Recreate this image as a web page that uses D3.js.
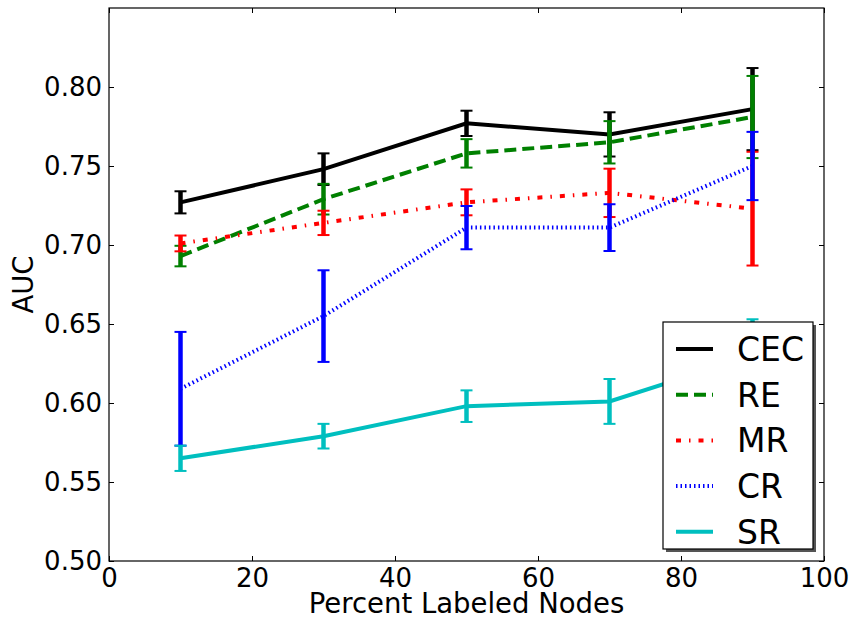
<!DOCTYPE html>
<html>
<head>
<meta charset="utf-8">
<script src="https://cdn.jsdelivr.net/npm/d3@7"></script>
<style>
  body { margin: 0; background: #fff; }
  svg { display: block; font-family: "DejaVu Sans", sans-serif; }
</style>
</head>
<body>
<svg></svg>
<script>
// Data
const percentLabeled = [10, 30, 50, 70, 90];
const seriesNames = ["CEC", "RE", "MR", "CR", "SR"];

const cecMean = [0.727, 0.748, 0.777, 0.770, 0.786];
const cecErr  = [0.007, 0.010, 0.008, 0.014, 0.026];
const reMean  = [0.693, 0.729, 0.758, 0.765, 0.781];
const reErr   = [0.0065, 0.0097, 0.009, 0.0134, 0.026];
const mrMean  = [0.701, 0.714, 0.727, 0.733, 0.723];
const mrErr   = [0.005, 0.0077, 0.0082, 0.0153, 0.036];
const crMean  = [0.609, 0.655, 0.711, 0.711, 0.750];
const crErr   = [0.036, 0.029, 0.0137, 0.0148, 0.0216];
const srMean  = [0.565, 0.579, 0.598, 0.601, 0.630];
const srErr   = [0.008, 0.0078, 0.010, 0.0142, 0.023];

const xTicks = [0, 20, 40, 60, 80, 100];
const yTicks = [0.50, 0.55, 0.60, 0.65, 0.70, 0.75, 0.80];

// Styles for each series
const colors = ["#000000", "#008000", "#ff0000", "#0000ff", "#00bfbf"];
const dashes = [null, "12,6", "5,8,1.5,8", "1.5,3", null];

const series = seriesNames.map((name, i) => ({
    name: name,
    color: colors[i],
    dash: dashes[i],
    mean: [cecMean, reMean, mrMean, crMean, srMean][i],
    err: [cecErr, reErr, mrErr, crErr, srErr][i]
}));

// Canvas and plot area
const width = 856;
const height = 622;
const margin = { left: 109, right: 32, top: 8, bottom: 61 };

const svg = d3.select("svg")
    .attr("width", width)
    .attr("height", height);

const x = d3.scaleLinear()
    .domain([0, 100])
    .range([margin.left, width - margin.right]);

const y = d3.scaleLinear()
    .domain([0.5, 0.85])
    .range([height - margin.bottom, margin.top]);

// Axes with inward ticks on all four sides
const bottomAxis = svg.append("g")
    .attr("transform", `translate(0,${y(0.5)})`)
    .call(d3.axisBottom(x).tickValues(xTicks).tickSize(-5).tickPadding(8).tickFormat(d3.format("d")));

const leftAxis = svg.append("g")
    .attr("transform", `translate(${x(0)},0)`)
    .call(d3.axisLeft(y).tickValues(yTicks).tickSize(-5).tickPadding(7).tickFormat(d3.format(".2f")));

svg.append("g")
    .attr("transform", `translate(0,${y(0.85)})`)
    .call(d3.axisTop(x).tickValues(xTicks).tickSize(-5).tickFormat(""));

svg.append("g")
    .attr("transform", `translate(${x(100)},0)`)
    .call(d3.axisRight(y).tickValues(yTicks).tickSize(-5).tickFormat(""));

svg.selectAll(".domain").remove();
svg.selectAll(".tick line").attr("stroke", "#000").attr("stroke-width", 1);
svg.selectAll(".tick text")
    .attr("fill", "#000")
    .style("font-size", "26px")
    .style("font-family", "DejaVu Sans, sans-serif");

// Frame
svg.append("rect")
    .attr("x", x(0))
    .attr("y", y(0.85))
    .attr("width", x(100) - x(0))
    .attr("height", y(0.5) - y(0.85))
    .attr("fill", "none")
    .attr("stroke", "#000")
    .attr("stroke-width", 1.2);

// Lines and error bars
const line = d3.line()
    .x(d => x(d.x))
    .y(d => y(d.m));

series.forEach(s => {
    const pts = percentLabeled.map((px, i) => ({ x: px, m: s.mean[i], e: s.err[i] }));

    svg.append("path")
        .datum(pts)
        .attr("d", line)
        .attr("fill", "none")
        .attr("stroke", s.color)
        .attr("stroke-width", 4)
        .attr("stroke-dasharray", s.dash);

    const bars = svg.append("g").selectAll("g")
        .data(pts)
        .enter().append("g");

    bars.append("line")
        .attr("x1", d => x(d.x)).attr("x2", d => x(d.x))
        .attr("y1", d => y(d.m - d.e)).attr("y2", d => y(d.m + d.e))
        .attr("stroke", s.color)
        .attr("stroke-width", 4.5);

    // Caps at both ends
    [-1, 1].forEach(sign => {
        bars.append("line")
            .attr("x1", d => x(d.x) - 6).attr("x2", d => x(d.x) + 6)
            .attr("y1", d => y(d.m + sign * d.e)).attr("y2", d => y(d.m + sign * d.e))
            .attr("stroke", s.color)
            .attr("stroke-width", 2);
    });
});

// Axis labels
svg.append("text")
    .attr("x", (x(0) + x(100)) / 2)
    .attr("y", 613)
    .attr("text-anchor", "middle")
    .style("font-size", "27.5px")
    .text("Percent Labeled Nodes");

svg.append("text")
    .attr("transform", `translate(33,${(y(0.5) + y(0.85)) / 2}) rotate(-90)`)
    .attr("text-anchor", "middle")
    .style("font-size", "27.5px")
    .text("AUC");

// Legend with shadow
const legend = svg.append("g").attr("transform", "translate(663,322)");
const legendW = 150;
const legendH = 227;

legend.append("rect")
    .attr("x", 3).attr("y", 3)
    .attr("width", legendW).attr("height", legendH)
    .attr("fill", "#555");

legend.append("rect")
    .attr("width", legendW).attr("height", legendH)
    .attr("fill", "#fff")
    .attr("stroke", "#000")
    .attr("stroke-width", 1.2);

const rows = legend.selectAll(".row")
    .data(series)
    .enter().append("g")
    .attr("class", "row")
    .attr("transform", (d, i) => `translate(0,${27 + i * 45.7})`);

rows.append("line")
    .attr("x1", 13).attr("x2", 50)
    .attr("stroke", d => d.color)
    .attr("stroke-width", 4)
    .attr("stroke-dasharray", d => d.dash);

rows.append("text")
    .attr("x", 74)
    .attr("dy", "0.36em")
    .style("font-size", "33px")
    .text(d => d.name);
</script>
</body>
</html>
